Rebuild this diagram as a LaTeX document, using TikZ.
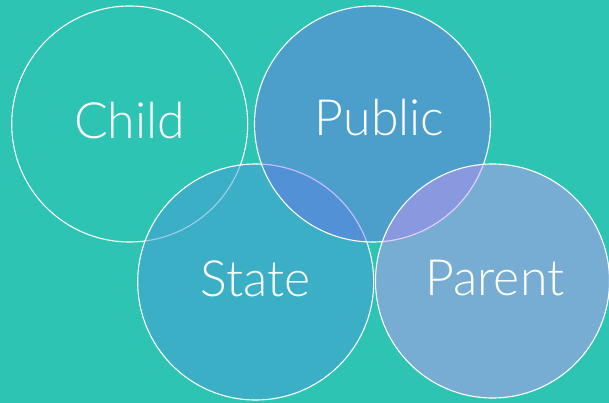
\documentclass[tikz,border=0pt]{standalone}
\usepackage{fontspec}
\setmainfont{Lato}[UprightFont=* Light]
\definecolor{bgc}{RGB}{46,196,179}
\definecolor{statec}{RGB}{70,156,217}
\definecolor{publicc}{RGB}{121,101,241}
\definecolor{parentc}{RGB}{210,147,250}
\begin{document}
\begin{tikzpicture}[x=1pt,y=1pt,
  ring/.style={circle,draw=white,line width=1.1pt,minimum size=236pt,inner sep=0pt},
  lbl/.style={text=white,font=\fontsize{50}{60}\selectfont,anchor=base,inner sep=0pt}]
\fill[bgc] (0,0) rectangle (609,403);
\useasboundingbox (0,0) rectangle (609,403);
\node[ring] (child) at (129.7,279) {};
\node[ring,fill=statec,fill opacity=0.5] (state) at (255.7,121) {};
\node[ring,fill=publicc,fill opacity=0.4] (public) at (372.5,279) {};
\node[ring,fill=parentc,fill opacity=0.45,minimum size=234pt] (parent) at (492.5,122) {};
\node[lbl] (tchild) at (129.7,264) {Child};
\node[lbl] (tpublic) at (379.6,267) {Public};
\node[lbl] (tstate) at (255.4,106) {State};
\node[lbl] (tparent) at (494.8,107) {Parent};
\end{tikzpicture}
\end{document}
